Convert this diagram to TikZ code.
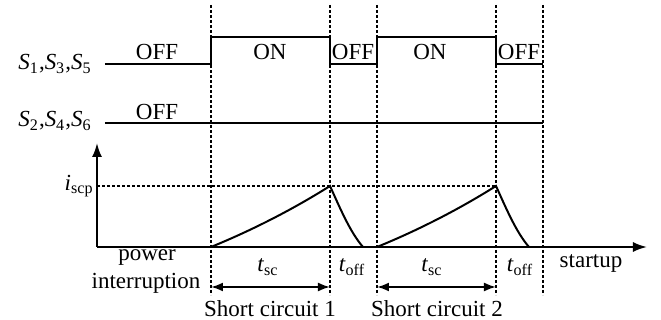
\documentclass[tikz,border=0pt]{standalone}
\usepackage{fontspec}
\setmainfont{Liberation Serif}
\usetikzlibrary{arrows.meta,positioning,calc}

\newcommand{\sub}[2]{\textit{#1}\textsubscript{#2}}

\begin{document}
\begin{tikzpicture}[
  x=0.5pt, y=-0.5pt,
  every node/.style={font=\fontsize{11.5}{13}\selectfont, inner sep=1pt},
  sig/.style={line width=1pt},
  mk/.style={line width=0.9pt, dash pattern=on 1.3pt off 1.2pt},
  ax/.style={line width=1pt, -{Latex[length=7pt,width=5pt]}},
  dim/.style={line width=1pt, {Latex[length=6pt,width=4.5pt]}-{Latex[length=6pt,width=4.5pt]}}
]
\useasboundingbox (0,0) rectangle (661,320);

% time marks
\foreach \n/\x in {a/211, b/330, c/377, d/496, e/543} {
  \coordinate (\n) at (\x,0);
  \draw[mk] (\x,5) -- (\x,295);
}

% switch signals
\node[anchor=east] (s1) at (94,64) {\sub{S}{1},\sub{S}{3},\sub{S}{5}};
\node[anchor=east] (s2) at (94,121) {\sub{S}{2},\sub{S}{4},\sub{S}{6}};
\draw[sig] (105,64) -- (211,64) -- (211,37) -- (330,37) -- (330,64) -- (377,64)
  -- (377,37) -- (496,37) -- (496,64) -- (543,64);
\draw[sig] (105,123) -- (543,123);

\node (off1) at (157,52) {OFF};
\node (on1) at (270,52) {ON};
\node (off2) at (353,52) {OFF};
\node (on2) at (430,52) {ON};
\node (off3) at (519,52) {OFF};
\node (off4) at (157,112) {OFF};

% current axes
\coordinate (o) at (97,247);
\draw[ax] (o) -- (97,143);
\draw[ax] (o) -- (647,247);
\node[anchor=east] (iscp) at (96,186) {\sub{i}{scp}};
\draw[mk] (97,186) -- (496,186);

\draw[sig] (211,247) .. controls (255,229) and (295,208) .. (330,186)
  .. controls (340,208) and (350,232) .. (363,247);
\draw[sig] (377,247) .. controls (421,229) and (461,208) .. (496,186)
  .. controls (506,208) and (516,232) .. (529,247);

% phase labels
\node (pw) at (147,258) {power};
\node (intr) at (146,283) {interruption};
\node (tsc1) at (268,267) {\sub{t}{sc}};
\node (toff1) at (352,267) {\sub{t}{off}};
\node (tsc2) at (432,267) {\sub{t}{sc}};
\node (toff2) at (520,267) {\sub{t}{off}};
\node (su) at (591,263) {startup};

\coordinate (sa) at (211,287);
\coordinate (sb) at (330,287);
\coordinate (sc) at (377,287);
\coordinate (sd) at (496,287);
\draw[dim] (sa) -- (sb);
\draw[dim] (sc) -- (sd);
\node (sc1) at (270,309) {Short circuit 1};
\node (sc2) at (437,309) {Short circuit 2};
\end{tikzpicture}
\end{document}
